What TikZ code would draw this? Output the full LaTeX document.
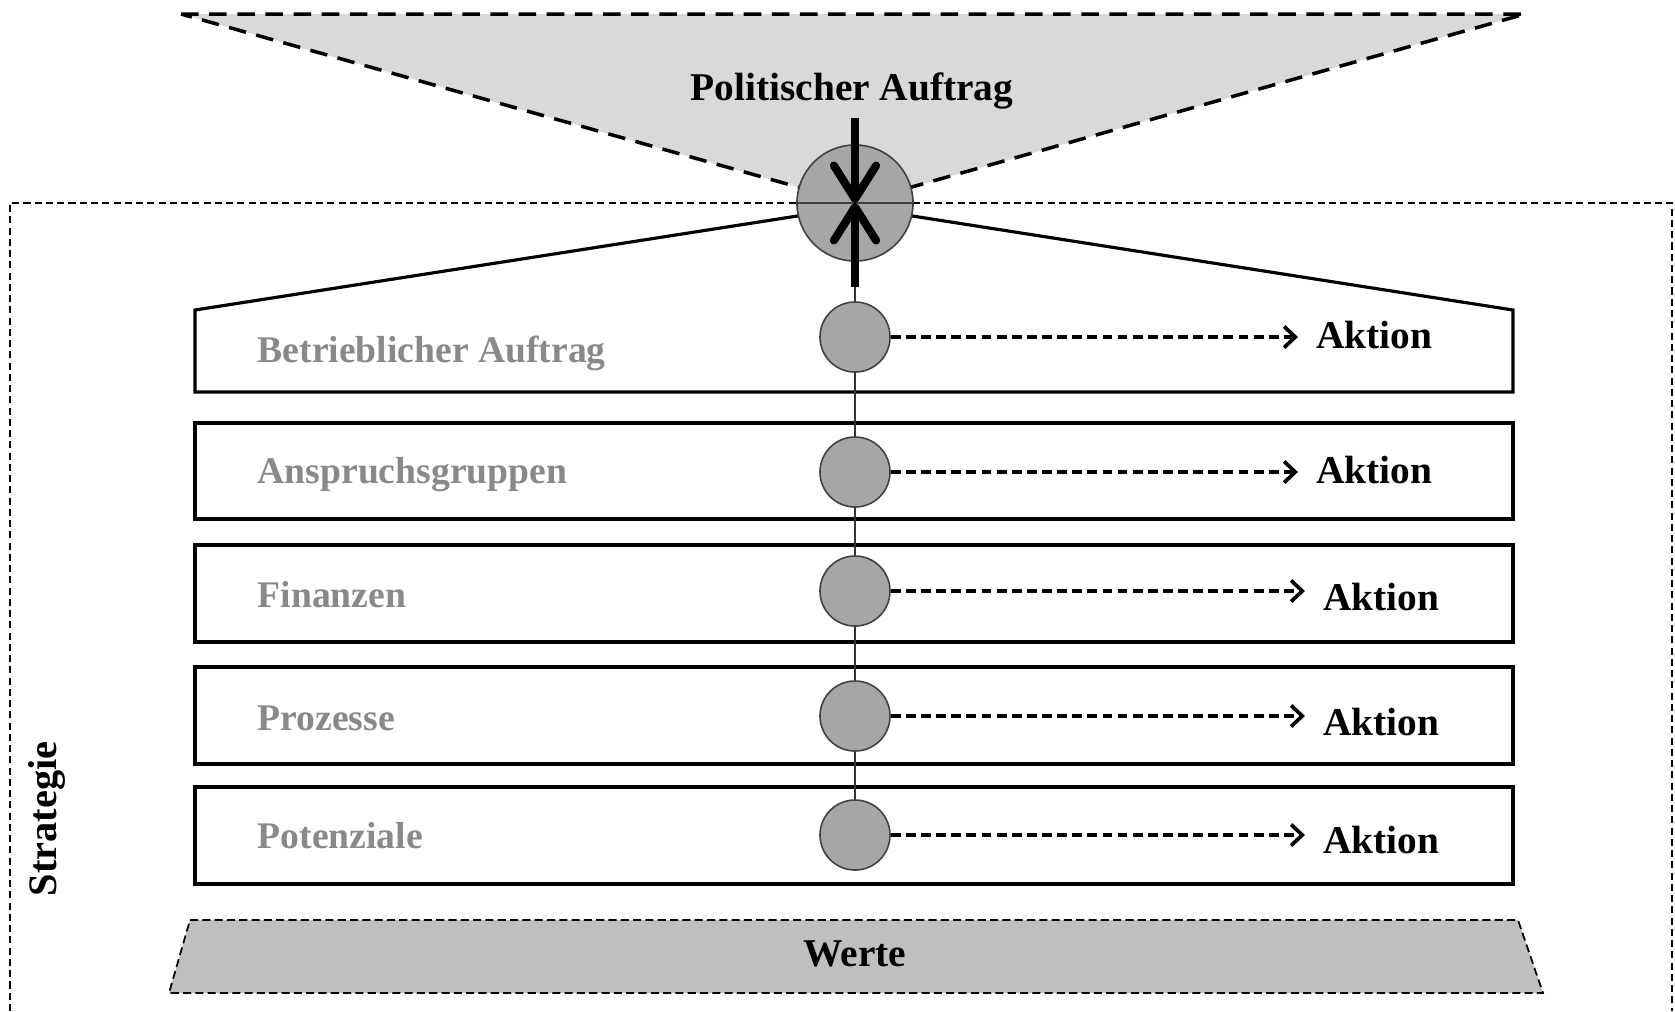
\documentclass[tikz,border=0pt]{standalone}
\usepackage{fontspec}
\setmainfont{Liberation Serif}
\usetikzlibrary{arrows.meta}
\definecolor{trichter}{RGB}{217,217,217}
\definecolor{kugel}{RGB}{166,166,166}
\definecolor{sockel}{RGB}{191,191,191}
\definecolor{labelgrau}{RGB}{137,137,137}
\begin{document}
\begin{tikzpicture}[x=0.01cm,y=-0.01cm,
                    bigdot/.style={circle,draw=black!75,line width=0.45pt,fill=kugel,minimum size=1.16cm,inner sep=0pt},
                    dot/.style={circle,draw=black!75,line width=0.45pt,fill=kugel,minimum size=0.7cm,inner sep=0pt},
                    feld/.style={line width=0.9pt},
                    pfeil/.style={line width=1.05pt,dash pattern=on 2.8pt off 1.5pt,-{Straight Barb[length=3.2pt,width=6pt]}},
                    bigpfeil/.style={line width=2.3pt,-{Straight Barb[length=9.5pt,width=12pt,round]}},
                    aktion/.style={anchor=base west,inner xsep=5pt,inner ysep=0pt,font=\fontsize{11.2}{13}\selectfont\bfseries},
                    ebene/.style={anchor=base west,inner sep=0pt,text=labelgrau,font=\fontsize{10.7}{13}\selectfont\bfseries},
                    titel/.style={anchor=base,inner sep=0pt,font=\fontsize{11.2}{13}\selectfont\bfseries}]

                    \useasboundingbox (0,0) rectangle (1675,1011);

                    \fill[trichter] (181,14) -- (1525,14) -- (855,203) -- cycle;
                    \draw[line width=1pt,dash pattern=on 5pt off 3pt] (181,14) -- (1525,14) -- (855,203) -- cycle;

                    \draw[line width=0.4pt,dash pattern=on 2pt off 1.2pt] (10,1011) -- (10,203) -- (1672,203) -- (1672,1011);

                    \fill[sockel] (190,920) -- (1518,920) -- (1543,993) -- (169,993) -- cycle;
                    \draw[line width=0.5pt,dash pattern=on 2.3pt off 1.2pt] (190,920) -- (1518,920) -- (1543,993) -- (169,993) -- cycle;

                    \draw[feld] (195,392) -- (195,310) -- (855,207) -- (1513,310) -- (1513,392) -- cycle;
                    \draw[feld] (195,423) rectangle (1513,519);
                    \draw[feld] (195,545) rectangle (1513,642);
                    \draw[feld] (195,667) rectangle (1513,764);
                    \draw[feld] (195,787) rectangle (1513,884);

                    \node[bigdot] (kreis) at (855,203) {};
                    \node[dot] (k1) at (855,337) {};
                    \node[dot] (k2) at (855,472) {};
                    \node[dot] (k3) at (855,591) {};
                    \node[dot] (k4) at (855,716) {};
                    \node[dot] (k5) at (855,835) {};

                    \draw[black!75,line width=0.4pt] (kreis.west) -- (kreis.east);
                    \draw[black!80,line width=0.4pt] (kreis.south) -- (k1.north);
                    \draw[black!80,line width=0.4pt] (k1.south) -- (k2.north);
                    \draw[black!80,line width=0.4pt] (k2.south) -- (k3.north);
                    \draw[black!80,line width=0.4pt] (k3.south) -- (k4.north);
                    \draw[black!80,line width=0.4pt] (k4.south) -- (k5.north);

                    \coordinate (oben) at (855,118);
                    \coordinate (unten) at (855,287);
                    \draw[bigpfeil] (oben) -- (kreis.center);
                    \draw[bigpfeil] (unten) -- (kreis.center);

                    \node[titel] (auftrag) at (852,100) {Politischer Auftrag};

                    \node[ebene] (betrieb) at (257,362) {Betrieblicher Auftrag};
                    \node[ebene] (anspruch) at (257,483) {Anspruchsgruppen};
                    \node[ebene] (finanzen) at (257,607) {Finanzen};
                    \node[ebene] (prozesse) at (257,730) {Prozesse};
                    \node[ebene] (potenziale) at (257,848) {Potenziale};

                    \node[aktion] (aktion1) at (1298,348) {Aktion};
                    \node[aktion] (aktion2) at (1298,483) {Aktion};
                    \node[aktion] (aktion3) at (1305,610) {Aktion};
                    \node[aktion] (aktion4) at (1305,735) {Aktion};
                    \node[aktion] (aktion5) at (1305,853) {Aktion};

                    \draw[pfeil] (k1) -- (k1 -| aktion1.west);
                    \draw[pfeil] (k2) -- (k2 -| aktion2.west);
                    \draw[pfeil] (k3) -- (k3 -| aktion3.west);
                    \draw[pfeil] (k4) -- (k4 -| aktion4.west);
                    \draw[pfeil] (k5) -- (k5 -| aktion5.west);

                    \node[titel] (werte) at (855,966) {Werte};
                    \node[titel,rotate=90,anchor=base west,font=\fontsize{11.5}{13}\selectfont\bfseries] (strategie) at (57,897) {Strategie};
                \end{tikzpicture}
\end{document}
